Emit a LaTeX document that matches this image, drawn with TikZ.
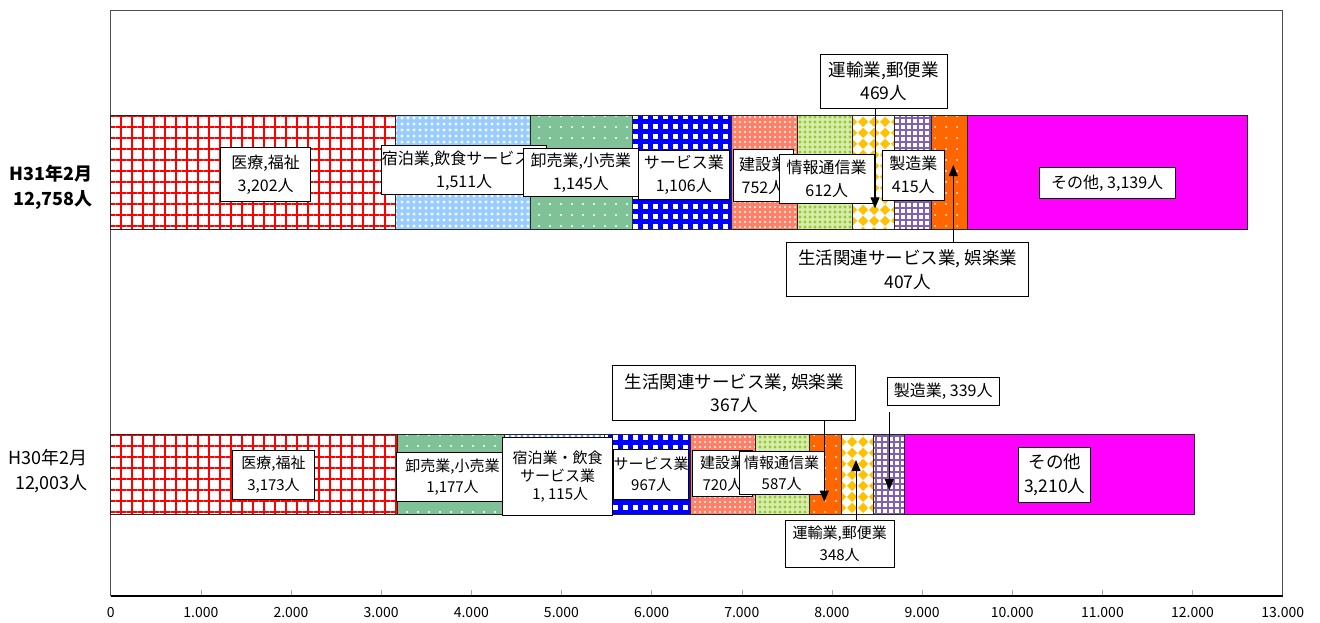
\documentclass[tikz,border=0pt]{standalone}
\usepackage{fontspec}
\setmainfont{Noto Sans CJK JP}
\usetikzlibrary{patterns.meta,arrows.meta}

\definecolor{skyb}{RGB}{153,204,255}
\definecolor{jade}{RGB}{128,194,152}
\definecolor{salmn}{RGB}{255,128,104}
\definecolor{lime}{RGB}{150,200,50}
\definecolor{limeb}{RGB}{214,236,170}
\definecolor{gold}{RGB}{255,192,0}
\definecolor{lilac}{RGB}{128,96,180}
\definecolor{orng}{RGB}{255,102,0}
\definecolor{mgnt}{RGB}{255,0,255}
\definecolor{paleb}{RGB}{110,165,230}

\tikzdeclarepattern{
  name=diamonds,
  type=uncolored,
  bounding box={(0pt,0pt) and (11pt,11pt)},
  tile size={(11pt,11pt)},
  code={\fill (5.5pt,0pt) -- (11pt,5.5pt) -- (5.5pt,11pt) -- (0pt,5.5pt) -- cycle;}
}

\begin{document}
\begin{tikzpicture}[x=1pt,y=-1pt,>={Triangle[length=11pt,width=9pt]},
    seg/.style={draw=black!85,line width=0.9pt},
    med/.style={preaction={fill=white},pattern={Hatch[angle=0,distance=11pt,line width=2pt]},pattern color=red},
    hotel/.style={preaction={fill=skyb},pattern={Dots[distance=6pt,radius=1.6pt]},pattern color=white},
    hotelb/.style={preaction={fill=white},pattern={Dots[distance=6pt,radius=1.6pt]},pattern color=paleb},
    retail/.style={preaction={fill=jade},pattern={Dots[distance=11pt,radius=1.2pt]},pattern color=white},
    serv/.style={preaction={fill=white},pattern={Hatch[angle=0,distance=10pt,line width=5pt]},pattern color=blue},
    constr/.style={preaction={fill=salmn},pattern={Dots[distance=5pt,radius=1.2pt]},pattern color=white},
    info/.style={preaction={fill=limeb},pattern={Dots[distance=5pt,radius=1.6pt]},pattern color=lime},
    trans/.style={preaction={fill=white},pattern=diamonds,pattern color=gold},
    manuf/.style={preaction={fill=white},pattern={Hatch[angle=0,distance=6pt,line width=1.5pt]},pattern color=lilac},
    life/.style={preaction={fill=orng},pattern={Dots[distance=11pt,radius=1pt]},pattern color=white},
    other/.style={fill=mgnt},
    lab/.style={draw,line width=1pt,fill=white,align=center,inner sep=0pt,
      font=\fontsize{16}{23}\selectfont},
    labbig/.style={lab,font=\fontsize{17.5}{23.5}\selectfont},
    labsmall/.style={lab,font=\fontsize{15}{21.5}\selectfont},
    yax/.style={align=right,anchor=east,font=\fontsize{18}{25}\selectfont},
    tick/.style={font=\fontsize{14}{14}\selectfont}]
  \useasboundingbox (0,0) rectangle (1320,622);

  % plot frame and axis
  \draw[gray!60!black,line width=0.9pt] (110.7,595.7) -- (110.7,10) -- (1282.7,10) -- (1282.7,595.7);
  \foreach \i in {1,...,12}
    \draw[gray!70] ({110.7+90.154*\i},595.7) -- ++(0,-5.5);
  \draw[line width=1.8pt] (110.7,595.7) -- (1282.7,595.7);
  \foreach \i in {0,...,13}
    \node[tick] (tk\i) at ({110.7+90.154*\i},612.5) {\ifnum\i=0 0\else\i.000\fi};

  % H31 bar
  \foreach \a/\b/\s in {110.7/395.7/med, 395.7/530.7/hotel, 530.7/632.7/retail,
      632.7/731/serv, 731/797.7/constr, 797.7/852.7/info, 852.7/894/trans,
      894/931.7/manuf, 931.7/967.7/life, 967.7/1247.7/other}
    \draw[seg,\s] (\a,115.7) rectangle (\b,229);

  % H30 bar
  \foreach \a/\b/\s in {110.7/397.7/med, 397.7/504/retail, 504/604.3/hotelb,
      604.3/690.7/serv, 690.7/755.7/constr, 755.7/809/info, 809/841.3/life,
      841.3/873.3/trans, 873.3/904/manuf, 904/1194/other}
    \draw[seg,\s] (\a,434) rectangle (\b,514);

  \node[yax,font=\fontsize{18}{25}\selectfont\bfseries] (h31) at (96,187.5) {H31年2月\\12,758人};
  \node[yax] (h30) at (91.5,471.5) {H30年2月\\12,003人};

  % H31 labels
  \node[lab,minimum width=90,minimum height=54] (med31) at (265.7,174.7) {医療,福祉\\3,202人};
  \node[lab,minimum width=162,minimum height=49] (hotel31) at (464.2,170.4) {宿泊業,飲食サービス業\\1,511人};
  \node[lab,minimum width=115,minimum height=48] (retail31) at (580.8,172.9) {卸売業,小売業\\1,145人};
  \node[lab,minimum width=91,minimum height=49] (serv31) at (683.8,174.5) {サービス業\\1,106人};
  \node[lab,minimum width=60,minimum height=52] (constr31) at (763,175.9) {建設業\\752人};
  \node[lab,minimum width=95,minimum height=49] (info31) at (826.7,178.7) {情報通信業\\612人};
  \node[lab,minimum width=62,minimum height=50] (manuf31) at (913.3,175) {製造業\\415人};
  \node[labbig,minimum width=127,minimum height=54] (trans31) at (883.7,81.2) {運輸業,郵便業\\469人};
  \node[labbig,minimum width=242,minimum height=54] (life31) at (907.8,269.7) {生活関連サービス業, 娯楽業\\407人};
  \node[lab,minimum width=136,minimum height=31] (other31) at (1107.2,183) {その他, 3,139人};

  \coordinate (t31) at (875,208.3);
  \coordinate (l31) at (953.3,165);
  \draw[->,line width=1pt] (trans31.south -| t31) -- (t31);
  \draw[->,line width=1pt] (life31.north -| l31) -- (l31);

  % H30 labels
  \node[labsmall,minimum width=82,minimum height=49] (med30) at (273.5,474.7) {医療,福祉\\3,173人};
  \node[labsmall,minimum width=113,minimum height=49] (retail30) at (452.5,477.2) {卸売業,小売業\\1,177人};
  \node[labsmall,font=\fontsize{15}{18}\selectfont,minimum width=110,minimum height=78] (hotel30) at (557.7,476.5) {宿泊業・飲食\\サービス業\\\,\,1, 115人};
  \node[labsmall,minimum width=74,minimum height=50] (serv30) at (651.2,474) {サービス業\\967人};
  \node[labsmall,minimum width=60,minimum height=46] (constr30) at (722.5,473.7) {建設業\\720人};
  \node[labsmall,minimum width=85,minimum height=43] (info30) at (781.7,473.3) {情報通信業\\587人};
  \node[labbig,minimum width=243,minimum height=55] (life30) at (734.3,393.3) {生活関連サービス業, 娯楽業\\367人};
  \node[lab,minimum width=112,minimum height=28] (manuf30) at (943.2,391.2) {製造業, 339人};
  \node[labsmall,minimum width=109,minimum height=47] (trans30) at (839.7,543.7) {運輸業,郵便業\\348人};
  \node[labbig,minimum width=72,minimum height=55] (other30) at (1054.8,475) {その他\\3,210人};

  \coordinate (l30) at (824.3,501.7);
  \coordinate (m30) at (889.3,490);
  \coordinate (t30) at (856,460);
  \draw[->,line width=1pt] (life30.south -| l30) -- (l30);
  \draw[->,line width=1pt,shorten <=6.7pt] (manuf30.south -| m30) -- (m30);
  \draw[->,line width=1pt] (trans30.north -| t30) -- (t30);
\end{tikzpicture}
\end{document}
